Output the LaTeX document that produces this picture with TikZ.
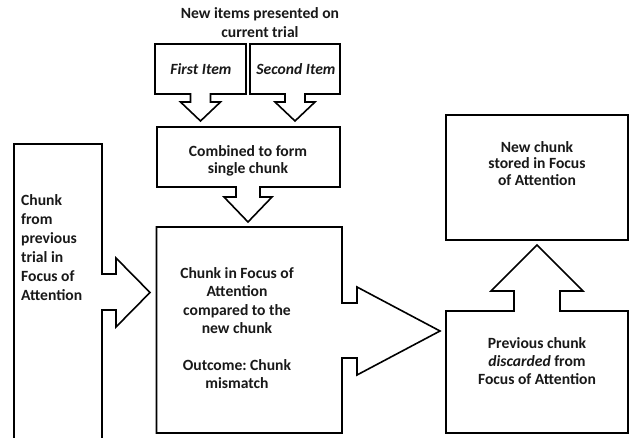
\documentclass[tikz,border=0pt]{standalone}
\usepackage{fontspec}
\setmainfont{Carlito}
\frenchspacing
\begin{document}
\begin{tikzpicture}[x=1pt,y=-1pt,
  blockline/.style={draw=black, line width=1.6pt, fill=white, line join=miter},
  txt/.style={font=\fontsize{15.6}{18.4}\selectfont\bfseries, align=center, inner sep=0pt, text=black!90}]
\useasboundingbox (0,0) rectangle (630,438);

% chunk carried over from the previous trial (runs off the bottom edge)
\draw[blockline] (14,438) -- (14,144) -- (102,144) -- (102,274) -- (116,274) -- (116,258)
  -- (150,292.5) -- (116,327) -- (116,310) -- (102,310) -- (102,438);

% the two new items, each pointing down
\draw[blockline] (155,44) -- (246,44) -- (246,94) -- (210.5,94) -- (210.5,102) -- (220.5,102)
  -- (200.5,121) -- (180.5,102) -- (190.5,102) -- (190.5,94) -- (155,94) -- cycle;
\draw[blockline] (250,44) -- (340,44) -- (340,94) -- (305,94) -- (305,102) -- (315,102)
  -- (295,121) -- (275,102) -- (285,102) -- (285,94) -- (250,94) -- cycle;

% combining step
\draw[blockline] (157,127) -- (340,127) -- (340,187) -- (260,187) -- (260,197) -- (272,197)
  -- (248,222) -- (224,197) -- (236,197) -- (236,187) -- (157,187) -- cycle;

% comparison step, pointing right
\draw[blockline] (156.5,227) -- (342,227) -- (342,303) -- (357,303) -- (357,287) -- (440,331)
  -- (357,375) -- (357,358) -- (342,358) -- (342,433) -- (156.5,433) -- cycle;

% discard step, pointing up
\draw[blockline] (446,311) -- (514,311) -- (514,291) -- (491,291) -- (537,245) -- (583,291)
  -- (560,291) -- (560,311) -- (628,311) -- (628,433) -- (446,433) -- cycle;

% storage
\draw[blockline] (446,115) rectangle (628,240);

% labels
\node[txt] (title) at (260,22.5) {New items presented on\\[0.6pt]current trial};
\node[txt, font=\fontsize{15.6}{18.4}\selectfont\bfseries\itshape] (first) at (201,69) {First Item};
\node[txt, font=\fontsize{15.6}{18.4}\selectfont\bfseries\itshape] (second) at (296,69) {Second Item};
\node[txt] (combined) at (248,161) {Combined to form\\[-1.5pt]single chunk};
\node[txt, align=left, anchor=west] (prev) at (21,247.5) {Chunk\\[0.7pt]from\\[0.7pt]previous\\[0.7pt]trial in\\[0.7pt]Focus of\\[0.7pt]Attention};
\node[txt] (compare) at (237,328) {Chunk in Focus of\\Attention\\compared to the\\new chunk\\[18.4pt]Outcome: Chunk\\mismatch};
\node[txt] (stored) at (537,163.5) {New chunk\\[-1.5pt]stored in Focus\\[-1.5pt]of Attention};
\node[txt] (discard) at (537,361) {Previous chunk\\[-0.5pt]\textit{discarded} from\\[-0.5pt]Focus of Attention};
\end{tikzpicture}
\end{document}
